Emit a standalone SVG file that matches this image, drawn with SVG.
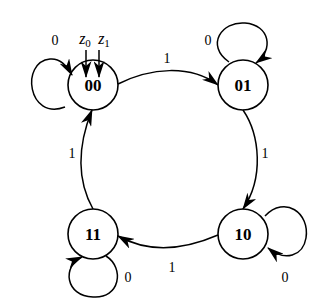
<svg xmlns="http://www.w3.org/2000/svg" width="314" height="305" viewBox="0 0 314 305">
<style>
.node{fill:#fff;stroke:#000;stroke-width:1.6}
.nl{font-family:"Liberation Serif","Times New Roman","DejaVu Serif",serif;font-weight:bold;font-size:17px;text-anchor:middle}
.el{font-family:"Liberation Serif","Times New Roman","DejaVu Serif",serif;font-size:14px;text-anchor:middle}
.zl{font-family:"Liberation Serif","Times New Roman","DejaVu Serif",serif;font-size:16px;text-anchor:middle}
.edge{fill:none;stroke:#000;stroke-width:1.5;marker-end:url(#ah)}
</style>
<defs>
<marker id="ah" viewBox="0 0 17 11" refX="16" refY="5.5" markerWidth="17" markerHeight="11" markerUnits="userSpaceOnUse" orient="auto">
<path d="M0,0 L17,5.5 L0,11 L5,5.5 z" fill="#000"/>
</marker>
</defs>
<rect width="314" height="305" fill="#fff"/>
<g id="n00"><circle class="node" cx="93" cy="85" r="25"/><text class="nl" x="93" y="91">00</text></g>
<g id="n01"><circle class="node" cx="243" cy="85" r="25"/><text class="nl" x="243" y="91">01</text></g>
<g id="n10"><circle class="node" cx="243" cy="234" r="25"/><text class="nl" x="243" y="240">10</text></g>
<g id="n11"><circle class="node" cx="93" cy="234" r="25"/><text class="nl" x="93" y="240">11</text></g>
<g id="connectors">
<path class="edge" d="M65,107 C28,121 20,62 50,59 C59,58 66,64 72,75"/>
<path class="edge" d="M229,62 C205,45 222,21 245,23 C270,25 274,50 256,63"/>
<path class="edge" d="M265,216 C285,195 310,213 306,238 C303,256 285,262 268,248"/>
<path class="edge" d="M106,256 C125,268 120,299 93,297 C65,296 62,266 82,257"/>
<path class="edge" d="M118,84 C150,68 190,64 218,85"/>
<path class="edge" d="M243,110 C260,135 264,178 243,209"/>
<path class="edge" d="M218,235 C188,248 152,255 118,236"/>
<path class="edge" d="M93,209 C74,175 80,140 92,110"/>
<path class="edge" d="M86,50 L86,77"/>
<path class="edge" d="M99,50 L99,77"/>
</g>
<g id="labels">
<text class="el" x="55" y="45">0</text>
<text class="zl" x="85" y="44"><tspan font-style="italic">z</tspan><tspan font-size="11" dy="3">0</tspan></text>
<text class="zl" x="104" y="44"><tspan font-style="italic">z</tspan><tspan font-size="11" dy="3">1</tspan></text>
<text class="el" x="208" y="45">0</text>
<text class="el" x="167" y="63">1</text>
<text class="el" x="265" y="158">1</text>
<text class="el" x="172" y="272">1</text>
<text class="el" x="72" y="158">1</text>
<text class="el" x="128" y="282">0</text>
<text class="el" x="285" y="282">0</text>
</g>
</svg>
